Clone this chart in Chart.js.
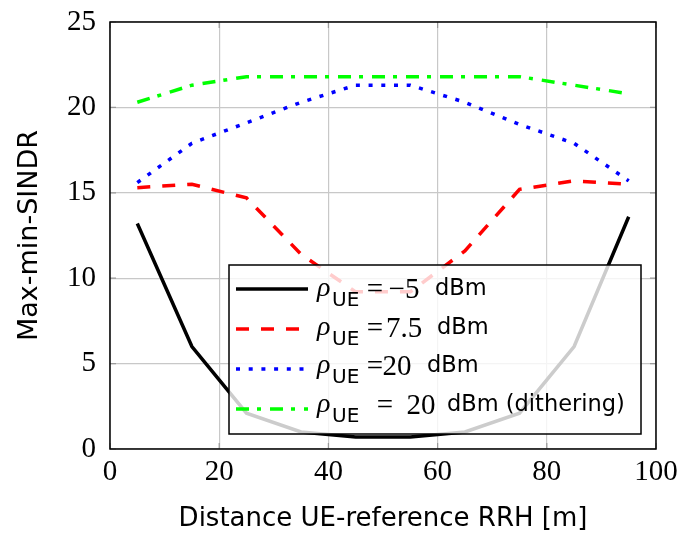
<!DOCTYPE html>
<html>
<head>
<meta charset="utf-8">
<script src="https://cdn.jsdelivr.net/npm/chart.js@4.4.0/dist/chart.umd.min.js"></script>
<style>
  html, body { margin: 0; padding: 0; background: #fff; }
  #wrap { width: 682px; height: 539px; }
</style>
</head>
<body>
<div id="wrap"><canvas id="sindrChart" width="682" height="539"></canvas></div>
<script>
// distance of the UE from the reference RRH [m]
const distances = [5, 15, 25, 35, 45, 55, 65, 75, 85, 95];

// max-min SINDR per UE power setting
const sindrMinus5 = [13.2, 6.0, 2.1, 1.0, 0.7, 0.7, 1.0, 2.1, 6.0, 13.6];
const sindr7p5 = [15.3, 15.5, 14.7, 11.4, 9.2, 9.2, 11.6, 15.2, 15.7, 15.5];
const sindr20 = [15.6, 17.9, 19.1, 20.3, 21.3, 21.3, 20.3, 19.0, 17.9, 15.7];
const sindr20Dither = [20.3, 21.3, 21.8, 21.8, 21.8, 21.8, 21.8, 21.8, 21.3, 20.8];

const xTicks = [0, 20, 40, 60, 80, 100];
const yTicks = [0, 5, 10, 15, 20, 25];

// legend text pieces: value after the "=" sign and the text after it
const legendValues = ['\u22125', '7.5', '20', '20'];
const legendTails = ['dBm', 'dBm', 'dBm', 'dBm (dithering)'];

const serif = '"Liberation Serif", "DejaVu Serif", serif';
const sans = '"DejaVu Sans", "Liberation Sans", sans-serif';

function toPoints(ys) {
    return distances.map((x, i) => ({ x: x, y: ys[i] }));
}

// where each piece of a legend row sits, measured from the box's left edge
// [eq centre, value centre, tail left]
const legendSlots = [
    [146, 175, 206],
    [146, 175, 208],
    [146, 168, 198],
    [156, 192, 218]
];

// frame, inward ticks and the boxed legend on top of the lines
const framePlugin = {
    id: 'frameAndLegend',
    afterDatasetsDraw(chart) {
        const ctx = chart.ctx;
        const a = chart.chartArea;
        const xs = chart.scales.x, ys = chart.scales.y;
        ctx.save();

        // small tick marks pointing inside
        ctx.strokeStyle = '#9a9a9a';
        ctx.lineWidth = 1.2;
        xTicks.forEach(t => {
            const px = xs.getPixelForValue(t);
            ctx.beginPath();
            ctx.moveTo(px, a.bottom); ctx.lineTo(px, a.bottom - 6);
            ctx.moveTo(px, a.top); ctx.lineTo(px, a.top + 6);
            ctx.stroke();
        });
        yTicks.forEach(t => {
            const py = ys.getPixelForValue(t);
            ctx.beginPath();
            ctx.moveTo(a.left, py); ctx.lineTo(a.left + 6, py);
            ctx.moveTo(a.right, py); ctx.lineTo(a.right - 6, py);
            ctx.stroke();
        });

        // plot frame
        ctx.strokeStyle = '#000';
        ctx.lineWidth = 1.5;
        ctx.strokeRect(a.left, a.top, a.right - a.left, a.bottom - a.top);

        // legend box
        const bx = a.left + 119, by = a.top + 243;
        const bw = 412, bh = 169;
        ctx.fillStyle = 'rgba(255,255,255,0.8)';
        ctx.fillRect(bx, by, bw, bh);
        ctx.strokeStyle = '#000';
        ctx.lineWidth = 1.5;
        ctx.strokeRect(bx, by, bw, bh);

        chart.data.datasets.forEach((ds, i) => {
            const cy = by + 24 + i * 40;
            ctx.save();
            ctx.strokeStyle = ds.borderColor;
            ctx.lineWidth = ds.borderWidth;
            ctx.lineCap = 'butt';
            ctx.setLineDash(ds.borderDash || []);
            ctx.beginPath();
            ctx.moveTo(bx + 7, cy);
            ctx.lineTo(bx + 79, cy);
            ctx.stroke();
            ctx.restore();

            const slot = legendSlots[i];
            const base = cy + 5 - 1.3 * i;
            ctx.fillStyle = '#000';
            ctx.textBaseline = 'alphabetic';

            ctx.textAlign = 'left';
            ctx.font = 'italic 28px ' + serif;
            ctx.fillText('\u03C1', bx + 88, base + 2);
            ctx.font = '20px ' + sans;
            ctx.fillText('UE', bx + 103, base + 12);

            ctx.textAlign = 'center';
            ctx.font = '29px ' + serif;
            ctx.fillText('=', bx + slot[0], base + 4);
            ctx.fillText(legendValues[i], bx + slot[1], base + 4);

            ctx.textAlign = 'left';
            ctx.font = '22.5px ' + sans;
            ctx.fillText(legendTails[i], bx + slot[2], base + 1);
        });
        ctx.restore();
    }
};

const ctx = document.getElementById('sindrChart').getContext('2d');

const sindrChart = new Chart(ctx, {
    type: 'line',
    data: {
        datasets: [{
            label: '\u03C1UE=\u22125 dBm',
            data: toPoints(sindrMinus5),
            borderColor: '#000000',
            borderWidth: 3.5
        }, {
            label: '\u03C1UE=7.5 dBm',
            data: toPoints(sindr7p5),
            borderColor: '#ff0000',
            borderWidth: 3.5,
            borderDash: [13, 12]
        }, {
            label: '\u03C1UE=20 dBm',
            data: toPoints(sindr20),
            borderColor: '#0000ff',
            borderWidth: 3.5,
            borderDash: [4, 8.7]
        }, {
            label: '\u03C1UE = 20 dBm (dithering)',
            data: toPoints(sindr20Dither),
            borderColor: '#00ff00',
            borderWidth: 3.5,
            borderDash: [13, 8, 4, 9]
        }]
    },
    options: {
        responsive: false,
        animation: false,
        elements: {
            point: { radius: 0 },
            line: { tension: 0, borderCapStyle: 'butt', borderJoinStyle: 'miter' }
        },
        layout: { padding: { left: 14, right: 26, top: 22, bottom: 0 } },
        plugins: {
            legend: { display: false },
            tooltip: { enabled: false }
        },
        scales: {
            x: {
                type: 'linear',
                min: 0,
                max: 100,
                afterBuildTicks: s => { s.ticks = xTicks.map(v => ({ value: v })); },
                afterFit: s => { s.height = 90; s.paddingLeft = 0; s.paddingRight = 0; },
                grid: { color: '#c8c8c8', lineWidth: 1.2, drawTicks: false },
                border: { display: false },
                ticks: {
                    padding: 6,
                    color: '#000',
                    font: { family: serif, size: 29 }
                },
                title: {
                    display: true,
                    text: 'Distance UE-reference RRH [m]',
                    color: '#000',
                    font: { family: sans, size: 26 },
                    padding: { top: 10, bottom: 4 }
                }
            },
            y: {
                min: 0,
                max: 25,
                afterBuildTicks: s => { s.ticks = yTicks.map(v => ({ value: v })); },
                afterFit: s => { s.width = 96; s.paddingTop = 0; s.paddingBottom = 0; },
                grid: { color: '#c8c8c8', lineWidth: 1.2, drawTicks: false },
                border: { display: false },
                ticks: {
                    padding: 14,
                    color: '#000',
                    font: { family: serif, size: 29 }
                },
                title: {
                    display: true,
                    text: 'Max-min-SINDR',
                    color: '#000',
                    font: { family: sans, size: 27 },
                    padding: { top: 0, bottom: 4 }
                }
            }
        }
    },
    plugins: [framePlugin]
});
</script>
</body>
</html>
